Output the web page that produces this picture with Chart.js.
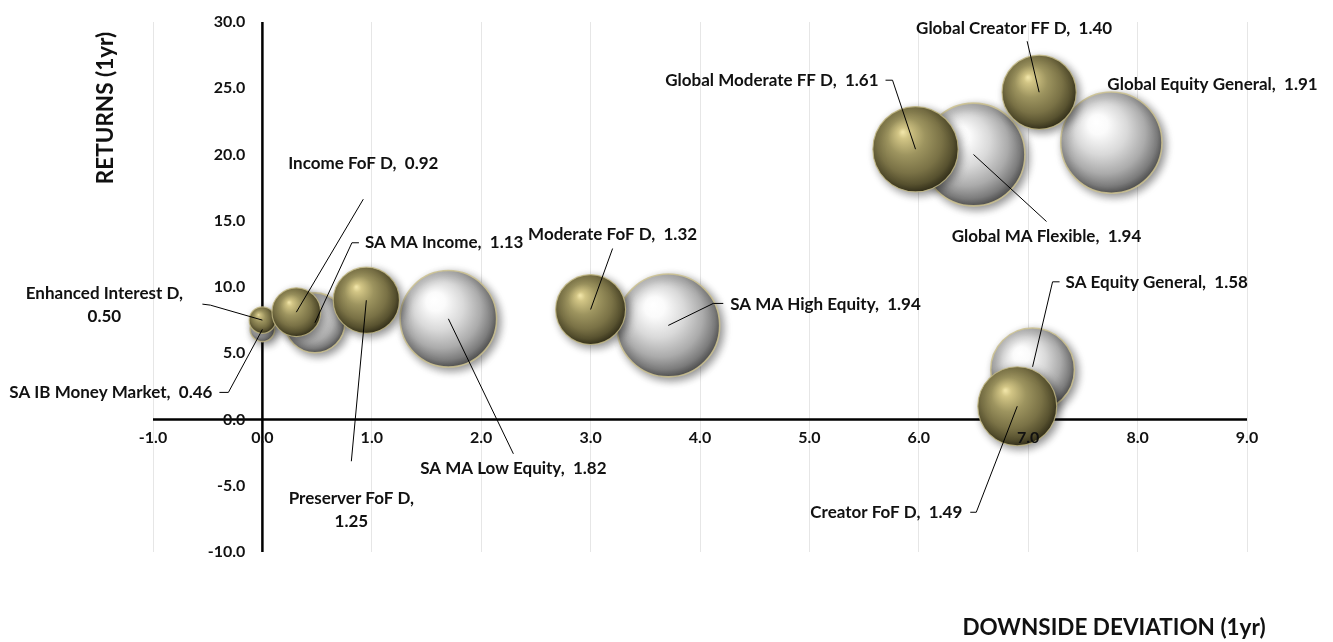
<!DOCTYPE html>
<html>
<head>
<meta charset="utf-8">
<script src="https://cdn.jsdelivr.net/npm/chart.js@4.4.1/dist/chart.umd.min.js"></script>
<style>
  html, body { margin: 0; padding: 0; background: #ffffff; }
  #chart { display: block; }
</style>
</head>
<body>
<canvas id="chart" width="1333" height="642"></canvas>
<script>
// Fund class D (gold spheres)
const fundNames = ['Enhanced Interest D', 'Income FoF D', 'Preserver FoF D', 'Moderate FoF D',
    'Global Moderate FF D', 'Global Creator FF D', 'Creator FoF D'];
const fundDownside = [0.00, 0.31, 0.95, 3.00, 5.97, 7.10, 6.90];
const fundReturns = [7.5, 8.1, 9.0, 8.3, 20.4, 24.7, 1.0];
const fundScores = [0.50, 0.92, 1.25, 1.32, 1.61, 1.40, 1.49];

// Sector averages (silver spheres)
const sectorNames = ['SA IB Money Market', 'SA MA Income', 'SA MA Low Equity', 'SA MA High Equity',
    'Global MA Flexible', 'Global Equity General', 'SA Equity General'];
const sectorDownside = [0.00, 0.48, 1.70, 3.71, 6.50, 7.76, 7.04];
const sectorReturns = [6.8, 7.3, 7.6, 7.1, 20.0, 20.9, 3.75];
const sectorScores = [0.46, 1.13, 1.82, 1.94, 1.94, 1.91, 1.58];

const xTicks = [-1, 0, 1, 2, 3, 4, 5, 6, 7, 8, 9];
const yTicks = [-10, -5, 0, 5, 10, 15, 20, 25, 30];

const FONT = 'Lato, "Open Sans", sans-serif';
const BUBBLE_SCALE = 26.5; // px of radius per unit of score

// where each data label sits, relative to its bubble centre (px)
const labelPlacement = {
    'Enhanced Interest D':   { dx: -158, dy: -27, align: 'center', wrap: true, leader: [[-60, -16], [-52, -15], [0, 0]] },
    'Income FoF D':          { dx: 67, dy: -149, align: 'center', leader: [[67, -113], [0, 0]] },
    'Preserver FoF D':       { dx: -15, dy: 198, align: 'center', wrap: true, leader: [[-15, 161], [0, 0]] },
    'Moderate FoF D':        { dx: 22, dy: -75, align: 'center', leader: [[22, -61], [0, 0]] },
    'Global Moderate FF D':  { dx: -37, dy: -69, align: 'right', leader: [[-30, -69], [-23, -69], [0, 0]] },
    'Global Creator FF D':   { dx: -25, dy: -64, align: 'center', leader: [[-12, -51], [0, 0]] },
    'Creator FoF D':         { dx: -55, dy: 106, align: 'right', leader: [[-47, 106], [-41, 106], [0, 0]] },
    'SA IB Money Market':    { dx: -50, dy: 63, align: 'right', leader: [[-43, 63], [-34, 63], [0, 0]] },
    'SA MA Income':          { dx: 50, dy: -80, align: 'left', leader: [[44, -80], [37, -80], [0, 0]] },
    'SA MA Low Equity':      { dx: 65, dy: 150, align: 'center', leader: [[65, 135], [0, 0]] },
    'SA MA High Equity':     { dx: 62, dy: -21, align: 'left', leader: [[55, -22], [45, -22], [0, 0]] },
    'Global MA Flexible':    { dx: 73, dy: 82, align: 'center', leader: [[73, 67], [0, 0]] },
    'Global Equity General': { dx: -4, dy: -58, align: 'left' },
    'SA Equity General':     { dx: 33, dy: -87, align: 'left', leader: [[27, -88], [20, -88], [0, -3]] }
};

function toPoints(xs, ys, scores) {
    return xs.map((x, i) => ({ x: x, y: ys[i], r: scores[i] * BUBBLE_SCALE, score: scores[i] }));
}

// shaded sphere fill for a bubble
function sphereFill(stops) {
    return (context) => {
        const chart = context.chart;
        const p = context.raw;
        if (!p || !chart.scales || !chart.scales.x || !chart.scales.y) return stops[2][1];
        const cx = chart.scales.x.getPixelForValue(p.x);
        const cy = chart.scales.y.getPixelForValue(p.y);
        const r = p.r;
        if (![cx, cy, r].every(Number.isFinite)) return stops[2][1];
        const g = chart.ctx.createRadialGradient(cx - 0.3 * r, cy - 0.4 * r, r * 0.02,
            cx - 0.08 * r, cy - 0.12 * r, r * 1.12);
        stops.forEach(s => g.addColorStop(s[0], s[1]));
        return g;
    };
}

const goldStops = [
    [0, '#efe3a6'], [0.1, '#d2c585'], [0.38, '#9d945f'],
    [0.68, '#7a7246'], [0.88, '#57512f'], [1, '#36321c']
];
const silverStops = [
    [0, '#ffffff'], [0.16, '#fbfbfb'], [0.45, '#d9d9d9'],
    [0.72, '#ababab'], [0.9, '#7c7c7c'], [1, '#555555']
];

const quadrantAxes = {
    id: 'quadrantAxes',
    beforeDatasetsDraw(chart) {
        const { ctx, chartArea, scales } = chart;
        const x0 = scales.x.getPixelForValue(0);
        const y0 = scales.y.getPixelForValue(0);
        ctx.save();
        ctx.strokeStyle = '#000000';
        ctx.lineWidth = 2.5;
        ctx.beginPath();
        ctx.moveTo(chartArea.left, y0);
        ctx.lineTo(chartArea.right, y0);
        ctx.moveTo(x0, chartArea.top);
        ctx.lineTo(x0, chartArea.bottom);
        ctx.stroke();
        ctx.restore();
    }
};

const sphereShadow = {
    id: 'sphereShadow',
    beforeDatasetDraw(chart) {
        const ctx = chart.ctx;
        ctx.save();
        ctx.shadowColor = 'rgba(0, 0, 0, 0.45)';
        ctx.shadowBlur = 8;
        ctx.shadowOffsetX = 3;
        ctx.shadowOffsetY = 3;
    },
    afterDatasetDraw(chart) {
        chart.ctx.restore();
    }
};

const textLayer = {
    id: 'textLayer',
    afterDatasetsDraw(chart) {
        const { ctx, scales } = chart;
        const x0 = scales.x.getPixelForValue(0);
        const y0 = scales.y.getPixelForValue(0);
        ctx.save();
        ctx.fillStyle = '#111111';

        // tick labels sit next to the crossing axes
        ctx.font = 'bold 16px ' + FONT;
        ctx.textBaseline = 'middle';
        ctx.textAlign = 'right';
        yTicks.forEach(v => ctx.fillText(v.toFixed(1), x0 - 17, scales.y.getPixelForValue(v)));
        ctx.textAlign = 'center';
        xTicks.forEach(v => ctx.fillText(v.toFixed(1), scales.x.getPixelForValue(v), y0 + 18));

        // axis titles
        ctx.font = 'bold 22.5px ' + FONT;
        ctx.textAlign = 'center';
        ctx.fillText('DOWNSIDE DEVIATION (1yr)', 1114, 628);
        ctx.save();
        ctx.translate(106, 108);
        ctx.rotate(-Math.PI / 2);
        ctx.fillText('RETURNS (1yr)', 0, 0);
        ctx.restore();

        // data labels with leader lines
        ctx.font = 'bold 17px ' + FONT;
        ctx.strokeStyle = '#000000';
        ctx.lineWidth = 1;
        chart.data.datasets.forEach((ds, di) => {
            const meta = chart.getDatasetMeta(di);
            ds.names.forEach((name, i) => {
                const el = meta.data[i];
                const lp = labelPlacement[name];
                if (!el || !lp) return;
                const score = ds.data[i].score.toFixed(2);
                if (lp.leader) {
                    ctx.beginPath();
                    lp.leader.forEach((pt, k) => {
                        const px = el.x + pt[0], py = el.y + pt[1];
                        if (k === 0) ctx.moveTo(px, py); else ctx.lineTo(px, py);
                    });
                    ctx.stroke();
                }
                ctx.textAlign = lp.align;
                const lines = lp.wrap ? [name + ',', score] : [name + ',  ' + score];
                lines.forEach((line, k) => ctx.fillText(line, el.x + lp.dx, el.y + lp.dy + k * 23));
            });
        });
        ctx.restore();
    }
};

new Chart(document.getElementById('chart'), {
    type: 'bubble',
    data: {
        datasets: [
            {
                label: 'Funds',
                names: fundNames,
                data: toPoints(fundDownside, fundReturns, fundScores),
                backgroundColor: sphereFill(goldStops),
                borderColor: 'rgba(196, 186, 132, 0.8)',
                borderWidth: 1.2,
                clip: false
            },
            {
                label: 'Sector averages',
                names: sectorNames,
                data: toPoints(sectorDownside, sectorReturns, sectorScores),
                backgroundColor: sphereFill(silverStops),
                borderColor: 'rgba(204, 194, 144, 0.85)',
                borderWidth: 1.6,
                clip: false
            }
        ]
    },
    options: {
        responsive: false,
        devicePixelRatio: 1,
        animation: false,
        events: [],
        layout: { autoPadding: false, padding: { left: 153, right: 86, top: 22, bottom: 90 } },
        scales: {
            x: {
                type: 'linear',
                min: -1,
                max: 9,
                afterBuildTicks: s => { s.ticks = xTicks.map(v => ({ value: v })); },
                ticks: { display: false },
                grid: { color: '#e6e6e6', lineWidth: 1, drawTicks: false },
                border: { display: false }
            },
            y: {
                type: 'linear',
                min: -10,
                max: 30,
                display: false
            }
        },
        plugins: {
            legend: { display: false },
            tooltip: { enabled: false }
        }
    },
    plugins: [quadrantAxes, sphereShadow, textLayer]
});
</script>
</body>
</html>
